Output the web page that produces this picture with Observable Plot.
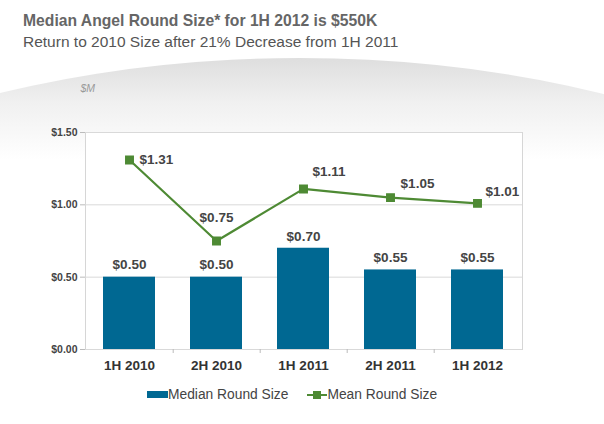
<!DOCTYPE html>
<html>
<head>
<meta charset="utf-8">
<script src="https://cdn.jsdelivr.net/npm/d3@7"></script>
<script src="https://cdn.jsdelivr.net/npm/@observablehq/plot@0.6"></script>
<style>
  html, body { margin: 0; padding: 0; width: 604px; height: 424px; overflow: hidden; background: #fff; font-family: "Liberation Sans", Arial, sans-serif; }
  #bg { position: absolute; left: -400px; top: 58px; width: 1400px; height: 726px; border-radius: 50%;
        background: linear-gradient(#dedede 0%, #f0f0f0 6%, #ffffff 14%); z-index: 0; }
  #wrap { position: relative; z-index: 1; }
  #title { position: absolute; left: 23px; top: 12px; font-size: 15.7px; font-weight: bold; color: #666; white-space: nowrap; }
  #subtitle { position: absolute; left: 23px; top: 33px; font-size: 15.5px; color: #555; white-space: nowrap; }
  #chart { position: absolute; left: 0; top: 60px; }
  #legend { position: absolute; left: 147px; top: 387px; display: flex; align-items: center; font-size: 13.8px; color: #444; white-space: nowrap; }
  .sw-bar { display: inline-block; width: 21px; height: 7px; background: #006892; }
  .sw-line { display: inline-block; position: relative; width: 20px; height: 8px; margin-left: 19px; }
  .sw-line::before { content: ""; position: absolute; left: 0; right: 0; top: 3px; height: 2px; background: #4e8a34; }
  .sw-line::after { content: ""; position: absolute; left: 6px; top: 0; width: 8px; height: 8px; background: #4e8a34; }
</style>
</head>
<body>
<div id="bg"></div>
<div id="wrap">
  <div id="title">Median Angel Round Size* for 1H 2012 is $550K</div>
  <div id="subtitle">Return to 2010 Size after 21% Decrease from 1H 2011</div>
  <div id="chart"></div>
  <div id="legend">
    <span class="sw-bar"></span><span>Median Round Size</span>
    <span class="sw-line"></span><span>Mean Round Size</span>
  </div>
</div>
<script>
const periods = ["1H 2010", "2H 2010", "1H 2011", "2H 2011", "1H 2012"];
const medianSize = [0.50, 0.50, 0.70, 0.55, 0.55];
const meanSize = [1.31, 0.75, 1.11, 1.05, 1.01];
const yTicks = [0, 0.5, 1.0, 1.5];

const data = periods.map((p, i) => ({period: p, median: medianSize[i], mean: meanSize[i]}));
const fmt = v => "$" + v.toFixed(2);

const blue = "#006892";
const green = "#4e8a34";
const labelFill = "#444";
const lbl = {fill: labelFill, fontSize: 13.5, fontWeight: "bold"};

const W = 604, ML = 85, MR = 82;
const step = (W - ML - MR) / periods.length;

const chart = Plot.plot({
  width: W,
  height: 320,
  marginTop: 72,
  marginBottom: 31,
  marginLeft: ML,
  marginRight: MR,
  style: {background: "transparent", fontFamily: "'Liberation Sans', Arial, sans-serif"},
  x: {domain: periods, paddingInner: 0.4, paddingOuter: 0.2, label: null},
  y: {domain: [0, 1.5], label: null},
  marks: [
    Plot.frame({fill: "white", stroke: "#d6d6d6"}),
    Plot.gridY(yTicks, {stroke: "#d9d9d9", strokeOpacity: 1}),
    Plot.axisY(yTicks, {tickFormat: fmt, tickSize: 5, tickPadding: 3, stroke: "#bbb", fill: labelFill, fontSize: 10.5, fontWeight: "bold"}),
    Plot.axisX({tickSize: 0, tickPadding: 11, fill: "#333", fontSize: 13.5, fontWeight: "bold"}),
    Plot.axisX(periods.slice(0, -1), {tickSize: 4, text: null, dx: step / 2, stroke: "#bbb"}),
    Plot.barY(data, {x: "period", y: "median", fill: blue}),
    Plot.text(data, {x: "period", y: "median", text: d => fmt(d.median), dy: -12, ...lbl}),
    Plot.line(data, {x: "period", y: "mean", stroke: green, strokeWidth: 2.2}),
    Plot.dot(data, {x: "period", y: "mean", symbol: "square", r: 4.2, fill: green, stroke: green}),
    Plot.text(data, {filter: (d, i) => i === 0, x: "period", y: "mean", text: d => fmt(d.mean), textAnchor: "start", dx: 10, dy: 0, ...lbl}),
    Plot.text(data, {filter: (d, i) => i === 1, x: "period", y: "mean", text: d => fmt(d.mean), dy: -23, ...lbl}),
    Plot.text(data, {filter: (d, i) => i === 2, x: "period", y: "mean", text: d => fmt(d.mean), textAnchor: "start", dx: 9, dy: -17, ...lbl}),
    Plot.text(data, {filter: (d, i) => i === 3, x: "period", y: "mean", text: d => fmt(d.mean), dx: 27, dy: -14, ...lbl}),
    Plot.text(data, {filter: (d, i) => i === 4, x: "period", y: "mean", text: d => fmt(d.mean), textAnchor: "start", dx: 8, dy: -12, ...lbl}),
    Plot.text(["$M"], {frameAnchor: "top-left", dx: -5, dy: -48, fill: "#999", fontSize: 10.5, fontStyle: "italic"})
  ]
});
document.getElementById("chart").appendChild(chart);
</script>
</body>
</html>
